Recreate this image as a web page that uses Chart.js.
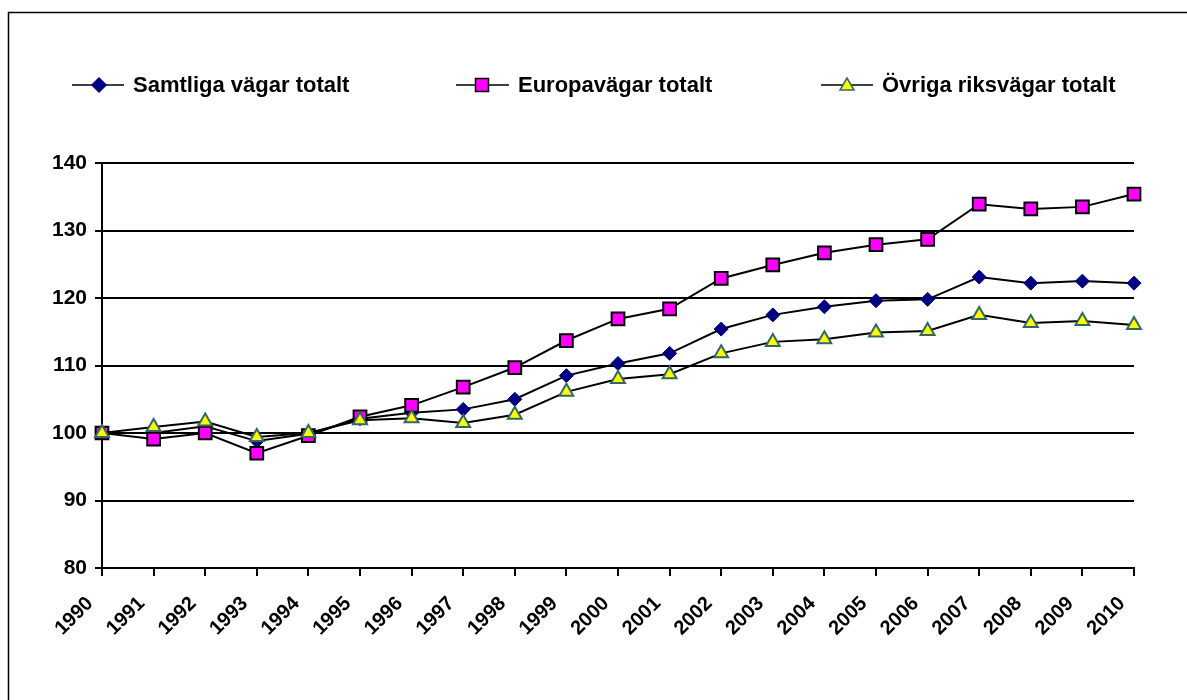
<!DOCTYPE html>
<html>
<head>
<meta charset="utf-8">
<script src="https://cdn.jsdelivr.net/npm/chart.js@4/dist/chart.umd.min.js"></script>
<style>
  html, body { margin: 0; padding: 0; background: #fff; }
  #wrap { width: 1187px; height: 700px; }
</style>
</head>
<body>
<div id="wrap"><canvas id="chart"></canvas></div>
<script>
const years = ["1990", "1991", "1992", "1993", "1994", "1995", "1996", "1997", "1998", "1999", "2000",
  "2001", "2002", "2003", "2004", "2005", "2006", "2007", "2008", "2009", "2010"];

const samtliga = [100, 100.0, 101.0, 98.8, 99.9, 102.1, 103.0, 103.5, 105.0, 108.5, 110.3,
  111.8, 115.4, 117.5, 118.7, 119.6, 119.8, 123.1, 122.2, 122.5, 122.2];
const europa = [100, 99.1, 100.0, 97.0, 99.6, 102.4, 104.1, 106.8, 109.7, 113.7, 116.9,
  118.4, 122.9, 124.9, 126.7, 127.9, 128.7, 133.9, 133.2, 133.5, 135.4];
const ovriga = [100, 100.9, 101.7, 99.4, 100.0, 101.9, 102.2, 101.5, 102.7, 106.1, 108.0,
  108.7, 111.8, 113.5, 113.9, 114.9, 115.1, 117.5, 116.3, 116.6, 116.0];

const seriesNames = ["Samtliga vägar totalt", "Europavägar totalt", "Övriga riksvägar totalt"];
const yTicks = [80, 90, 100, 110, 120, 130, 140];

const FONT = "'Liberation Sans', Arial, sans-serif";

// draws a marker like the dataset's points, for the legend
function marker(ctx, style, x, y, fill, stroke) {
  ctx.save();
  ctx.fillStyle = fill;
  ctx.strokeStyle = stroke;
  ctx.lineWidth = 1.5;
  ctx.beginPath();
  if (style === "rectRot") {
    ctx.moveTo(x, y - 7); ctx.lineTo(x + 7, y); ctx.lineTo(x, y + 7); ctx.lineTo(x - 7, y);
  } else if (style === "rect") {
    ctx.rect(x - 6.5, y - 6.5, 13, 13);
  } else {
    ctx.moveTo(x, y - 7); ctx.lineTo(x + 7, y + 5); ctx.lineTo(x - 7, y + 5);
  }
  ctx.closePath();
  ctx.fill();
  ctx.stroke();
  ctx.restore();
}

const framePlugin = {
  id: "frame",
  beforeDraw(chart) {
    const ctx = chart.ctx;
    ctx.save();
    ctx.fillStyle = "#fff";
    ctx.fillRect(0, 0, chart.width, chart.height);
    ctx.strokeStyle = "#000";
    ctx.lineWidth = 1.5;
    ctx.strokeRect(8.5, 12.5, chart.width + 20, chart.height + 20);
    ctx.restore();
  },
  afterDraw(chart) {
    const ctx = chart.ctx;
    // [line start, line end, marker x, text x]
    const spots = [[72, 124, 99, 133], [456, 509, 482, 518], [821, 873, 847, 882]];
    ctx.save();
    chart.data.datasets.forEach((ds, i) => {
      const [x0, x1, mx, tx] = spots[i];
      const y = 85;
      ctx.strokeStyle = "#000";
      ctx.lineWidth = 1.5;
      ctx.beginPath();
      ctx.moveTo(x0, y);
      ctx.lineTo(x1, y);
      ctx.stroke();
      marker(ctx, ds.pointStyle, mx, y, ds.pointBackgroundColor, ds.pointBorderColor);
      ctx.fillStyle = "#000";
      ctx.font = "bold 22px " + FONT;
      ctx.textBaseline = "middle";
      ctx.fillText(ds.label, tx, y + 1);
    });
    ctx.restore();
  }
};

new Chart(document.getElementById("chart"), {
  type: "line",
  data: {
    labels: years,
    datasets: [
      {
        label: seriesNames[0],
        data: samtliga,
        borderColor: "#000",
        borderWidth: 2,
        pointStyle: "rectRot",
        pointRadius: 7,
        pointBackgroundColor: "#000080",
        pointBorderColor: "#000080",
        pointBorderWidth: 1,
        order: 2
      },
      {
        label: seriesNames[1],
        data: europa,
        borderColor: "#000",
        borderWidth: 2,
        pointStyle: "rect",
        pointRadius: 9,
        pointBackgroundColor: "#ff00ff",
        pointBorderColor: "#000",
        pointBorderWidth: 2,
        order: 1
      },
      {
        label: seriesNames[2],
        data: ovriga,
        borderColor: "#000",
        borderWidth: 2,
        pointStyle: "triangle",
        pointRadius: 8,
        pointBackgroundColor: "#ffff00",
        pointBorderColor: "#336666",
        pointBorderWidth: 2,
        order: 0
      }
    ]
  },
  options: {
    responsive: true,
    maintainAspectRatio: false,
    animation: false,
    layout: { padding: { top: 163, right: 53, left: 0, bottom: 0 } },
    plugins: {
      legend: { display: false },
      tooltip: { enabled: false }
    },
    scales: {
      x: {
        offset: false,
        afterFit: (s) => { s.height = 132; },
        border: { display: true, color: "#000", width: 2 },
        grid: { drawOnChartArea: false, drawTicks: true, tickLength: 8, color: "#000", lineWidth: 2 },
        ticks: {
          color: "#000",
          font: { family: FONT, size: 20, weight: "bold" },
          maxRotation: 45,
          minRotation: 45,
          autoSkip: false,
          padding: 16,
          labelOffset: -12
        }
      },
      y: {
        min: 80,
        max: 140,
        afterFit: (s) => { s.width = 102; },
        afterBuildTicks: (s) => { s.ticks = yTicks.map((v) => ({ value: v })); },
        border: { display: true, color: "#000", width: 2 },
        grid: { color: "#000", lineWidth: 2, tickLength: 7 },
        ticks: {
          color: "#000",
          font: { family: FONT, size: 21, weight: "bold" },
          padding: 8
        }
      }
    }
  },
  plugins: [framePlugin]
});
</script>
</body>
</html>
